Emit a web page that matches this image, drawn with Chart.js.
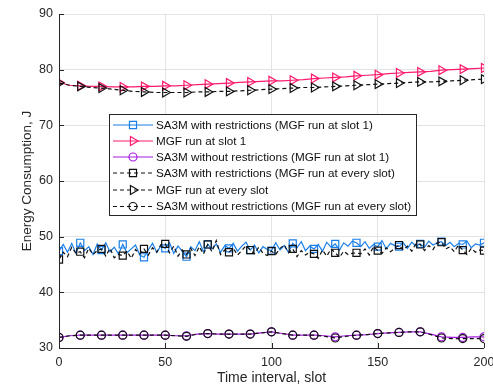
<!DOCTYPE html>
<html>
<head>
<meta charset="utf-8">
<script src="https://cdn.jsdelivr.net/npm/chart.js@4.4.1/dist/chart.umd.min.js"></script>
<style>
  html, body { margin: 0; padding: 0; background: #ffffff; }
  #wrap { width: 493px; height: 387px; position: relative; }
</style>
</head>
<body>
<div id="wrap"><canvas id="c" width="493" height="387"></canvas></div>
<script>
// ---------- DATA ----------
const xTicks = [0, 50, 100, 150, 200];
const yTicks = [30, 40, 50, 60, 70, 80, 90];

// slots sampled every 5 (smooth series)
const slots5 = [0,5,10,15,20,25,30,35,40,45,50,55,60,65,70,75,80,85,90,95,100,
                105,110,115,120,125,130,135,140,145,150,155,160,165,170,175,180,185,190,195,200];
// slots sampled every 2 (noisy series)
const slots2 = Array.from({length: 101}, (_, i) => i * 2);

const mgfSlot1 = [77.7,77.2,77.1,77.0,77.0,76.9,76.9,76.9,77.0,77.0,77.1,77.1,77.2,77.3,77.4,77.5,77.6,77.7,77.8,77.9,78.0,
                  78.0,78.1,78.2,78.4,78.5,78.6,78.7,78.9,79.0,79.1,79.3,79.4,79.5,79.6,79.7,79.9,80.0,80.1,80.2,80.3];
const mgfEvery = [77.6,77.2,77.0,76.8,76.7,76.5,76.3,76.1,76.0,75.9,75.9,75.9,75.9,76.0,76.0,76.1,76.1,76.2,76.3,76.4,76.5,
                  76.6,76.7,76.8,76.8,76.9,77.0,77.1,77.2,77.3,77.4,77.5,77.6,77.7,77.8,77.8,77.9,78.0,78.1,78.2,78.3];

const sa3mNoRestrSlot1 = [31.9,32.2,32.3,32.3,32.3,32.3,32.3,32.3,32.3,32.3,32.3,32.2,32.2,32.5,32.6,32.5,32.5,32.5,32.5,32.7,32.9,
                          32.6,32.3,32.3,32.3,32.2,32.0,32.2,32.3,32.4,32.6,32.7,32.8,32.9,32.9,32.5,32.0,31.9,31.9,32.0,32.0];
const sa3mNoRestrEvery = [31.9,32.2,32.3,32.3,32.3,32.3,32.3,32.3,32.3,32.3,32.3,32.2,32.1,32.5,32.6,32.5,32.5,32.5,32.5,32.7,32.9,
                          32.6,32.3,32.3,32.3,32.1,31.8,32.1,32.3,32.4,32.6,32.7,32.8,32.9,32.9,32.4,31.8,31.7,31.7,31.7,31.7];

const sa3mRestrSlot1 = [
  47.4,48.6,47.2,48.8,47.0,48.9,47.5,48.2,46.8,48.7,47.6,
  48.9,47.3,48.1,46.9,48.6,47.1,47.8,48.5,46.7,46.3,
  47.6,48.8,47.2,48.4,47.9,48.9,47.0,48.3,47.4,46.4,
  48.2,47.5,49.1,47.3,48.6,47.8,48.7,47.2,48.4,47.9,
  48.8,47.4,48.3,49.0,47.6,48.5,47.1,48.2,47.7,47.5,
  48.9,47.6,48.4,47.2,48.8,48.0,49.1,47.5,48.3,47.8,
  48.6,47.4,49.0,48.1,48.7,47.6,48.9,48.3,49.2,48.9,
  48.2,49.1,47.9,48.6,48.2,49.3,47.8,48.8,48.4,48.2,
  48.9,47.9,49.0,48.3,48.7,48.1,49.2,48.5,48.9,49.1,
  48.4,49.0,48.2,48.8,48.6,49.2,48.0,48.7,48.5,48.9];
const sa3mRestrEvery = [
  45.9,47.2,46.4,48.1,47.0,47.3,46.2,47.9,46.8,47.5,47.8,
  46.5,47.9,46.2,46.8,46.6,47.4,46.1,47.7,46.9,47.8,
  46.7,48.0,47.2,48.6,48.7,47.1,48.3,46.5,47.6,46.8,
  47.9,46.6,48.2,46.9,48.6,47.3,49.3,46.8,47.6,47.2,
  47.9,46.7,47.5,48.4,47.6,46.9,48.1,47.0,46.6,47.4,
  46.8,47.9,48.5,47.1,47.8,46.4,47.5,46.7,47.2,46.9,
  46.1,47.6,46.5,47.8,47.1,46.3,47.4,46.8,47.0,47.1,
  46.9,47.8,46.7,48.2,47.5,47.0,48.0,47.3,47.9,48.5,
  47.6,48.3,47.4,48.8,48.6,47.5,48.4,47.7,48.9,49.0,
  47.8,48.2,47.3,48.5,47.6,46.8,47.9,47.2,47.6,47.5];

const seriesLabels = [
  'SA3M with restrictions (MGF run at slot 1)',
  'MGF run at slot 1',
  'SA3M without restrictions (MGF run at slot 1)',
  'SA3M with restrictions (MGF run at every slot)',
  'MGF run at every slot',
  'SA3M without restrictions (MGF run at every slot)'
];

// ---------- STYLE ----------
const BLUE = '#1a7fe8';
const PINK = '#ff1a6e';
const PURPLE = '#a61ee0';
const BLACK = '#111111';
const AXIS = '#262626';
const GRID = '#e3e3e3';
const FONT = '"Liberation Sans", Arial, Helvetica, sans-serif';
const DASH = [4, 3];

function pts(xs, ys) { return xs.map((x, i) => ({x: x, y: ys[i]})); }
function markerRadius(r) { return c => (c.raw && c.raw.x % 10 === 0) ? r : 0; }

const styles = [
  {color: BLUE,   dash: [],   style: 'rect',     rot: 0,  r: 5,   data: pts(slots2, sa3mRestrSlot1)},
  {color: PINK,   dash: [],   style: 'triangle', rot: 90, r: 5.1, data: pts(slots5, mgfSlot1)},
  {color: PURPLE, dash: [],   style: 'circle',   rot: 0,  r: 4,   data: pts(slots5, sa3mNoRestrSlot1)},
  {color: BLACK,  dash: DASH, style: 'rect',     rot: 0,  r: 5,   data: pts(slots2, sa3mRestrEvery)},
  {color: BLACK,  dash: DASH, style: 'triangle', rot: 90, r: 5.1, data: pts(slots5, mgfEvery)},
  {color: BLACK,  dash: DASH, style: 'circle',   rot: 0,  r: 4,   data: pts(slots5, sa3mNoRestrEvery)}
];

const datasets = styles.map((s, i) => ({
  label: seriesLabels[i],
  data: s.data,
  borderColor: s.color,
  borderWidth: 1.2,
  borderDash: s.dash,
  backgroundColor: 'rgba(0,0,0,0)',
  pointStyle: s.style,
  pointRotation: s.rot,
  pointRadius: markerRadius(s.r),
  pointBorderColor: s.color,
  pointBackgroundColor: 'rgba(0,0,0,0)',
  pointBorderWidth: 1.2,
  pointHoverRadius: 0,
  tension: 0,
  fill: false,
  order: 6 - i
}));

// inward tick marks (MATLAB style)
const inwardTicks = {
  id: 'inwardTicks',
  afterDatasetsDraw(chart) {
    const ctx = chart.ctx, a = chart.chartArea;
    const xs = chart.scales.x, ys = chart.scales.y;
    ctx.save();
    ctx.strokeStyle = AXIS; ctx.lineWidth = 1;
    ctx.beginPath();
    xTicks.forEach(v => { const px = Math.round(xs.getPixelForValue(v)) + 0.5; ctx.moveTo(px, a.bottom); ctx.lineTo(px, a.bottom - 5); });
    yTicks.forEach(v => { const py = Math.round(ys.getPixelForValue(v)) + 0.5; ctx.moveTo(a.left, py); ctx.lineTo(a.left + 5, py); });
    ctx.stroke();
    ctx.beginPath();
    ctx.moveTo(Math.round(a.left) + 0.5, a.top);
    ctx.lineTo(Math.round(a.left) + 0.5, Math.round(a.bottom) + 0.5);
    ctx.lineTo(a.right, Math.round(a.bottom) + 0.5);
    ctx.stroke();
    ctx.restore();
  }
};

// legend box inside the plot
const boxLegend = {
  id: 'boxLegend',
  afterDraw(chart) {
    const ctx = chart.ctx;
    const bx = 109.5, by = 114.5, bw = 307, bh = 101;
    ctx.save();
    ctx.fillStyle = '#ffffff';
    ctx.fillRect(bx, by, bw, bh);
    ctx.strokeStyle = AXIS; ctx.lineWidth = 1;
    ctx.strokeRect(bx, by, bw, bh);
    const rowY = [125, 141, 157, 173, 190, 206.5];
    ctx.font = '11.7px ' + FONT;
    ctx.textBaseline = 'middle';
    styles.forEach((s, i) => {
      const y = rowY[i];
      ctx.strokeStyle = s.color;
      ctx.lineWidth = 1.2;
      ctx.setLineDash(s.dash);
      ctx.beginPath(); ctx.moveTo(113, y); ctx.lineTo(153, y); ctx.stroke();
      ctx.setLineDash([]);
      ctx.fillStyle = 'rgba(0,0,0,0)';
      Chart.helpers.drawPoint(ctx, {pointStyle: s.style, rotation: s.rot, radius: s.r, borderWidth: 1.2}, 133, y);
      ctx.fillStyle = '#111111';
      ctx.fillText(seriesLabels[i], 156, y + 0.5);
    });
    ctx.restore();
  }
};

new Chart(document.getElementById('c'), {
  type: 'line',
  data: { datasets: datasets },
  options: {
    responsive: false,
    animation: false,
    events: [],
    layout: { padding: { top: 14, right: 9, left: 0, bottom: 0 } },
    plugins: { legend: { display: false }, tooltip: { enabled: false } },
    scales: {
      x: {
        type: 'linear', min: 0, max: 200,
        afterBuildTicks: s => { s.ticks = xTicks.map(v => ({value: v})); },
        afterFit: s => { s.height = 39; s.paddingLeft = 0; s.paddingRight = 0; },
        border: { display: false },
        grid: { color: GRID, drawTicks: false, lineWidth: 1 },
        ticks: { color: AXIS, padding: 7, maxRotation: 0, autoSkip: false, font: { family: FONT, size: 12.5 } },
        title: { display: true, text: 'Time interval, slot', color: AXIS, padding: { top: 3, bottom: 0 }, font: { family: FONT, size: 14 } }
      },
      y: {
        type: 'linear', min: 30, max: 90,
        afterBuildTicks: s => { s.ticks = yTicks.map(v => ({value: v})); },
        afterFit: s => { s.width = 59; s.paddingTop = 0; s.paddingBottom = 0; },
        border: { display: false },
        grid: { color: GRID, drawTicks: false, lineWidth: 1 },
        ticks: { color: AXIS, padding: 6, autoSkip: false, font: { family: FONT, size: 12.5 } },
        title: { display: true, text: 'Energy Consumption, J', color: AXIS, padding: { top: 19, bottom: 0 }, font: { family: FONT, size: 13.5 } }
      }
    }
  },
  plugins: [inwardTicks, boxLegend]
});
</script>
</body>
</html>
